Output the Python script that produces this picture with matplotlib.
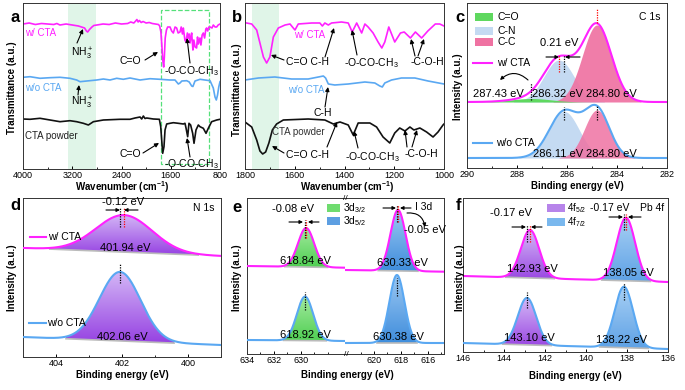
import numpy as np
import matplotlib
matplotlib.use("Agg")
import matplotlib.pyplot as plt
from matplotlib.patches import Rectangle, FancyArrowPatch
from matplotlib.ticker import MultipleLocator, FixedLocator
from matplotlib.colors import LinearSegmentedColormap

plt.rcParams['font.family'] = ['Liberation Sans', 'DejaVu Sans']
plt.rcParams['mathtext.fontset'] = 'custom'
plt.rcParams['mathtext.rm'] = 'Liberation Sans'
plt.rcParams['mathtext.it'] = 'Liberation Sans:italic'
plt.rcParams['mathtext.bf'] = 'Liberation Sans:bold'

# ---------------- data ----------------
# (a) FTIR 4000-800 cm-1 (transmittance, a.u.)
a_wn_w = [4000, 3900, 3800, 3700, 3600, 3500, 3450, 3400, 3300, 3200, 3100, 3050, 3000, 2970, 2950, 2920,
          2880, 2850, 2800, 2700, 2600, 2500, 2400, 2300, 2250, 2200, 2170, 2150, 2130, 2110, 2080, 2050,
          2000, 1950, 1900, 1850, 1800, 1780, 1760, 1745, 1730, 1715, 1705, 1690, 1670, 1650, 1612, 1585,
          1558, 1530, 1504, 1480, 1450, 1430, 1410, 1396, 1370, 1352, 1330, 1315, 1300, 1287, 1270, 1260,
          1240, 1225, 1205, 1180, 1165, 1150, 1125, 1110, 1090, 1071, 1050, 1030, 1017, 1000, 980, 962,
          930, 909, 880, 854, 830, 800]
a_t_w = [145, 146, 144.5, 145.5, 145, 144.5, 145.5, 144, 145, 144, 143, 142, 141, 138, 137, 139.5,
         142, 143.5, 144, 145, 144.5, 146, 145, 145.5, 147, 146, 148, 149.5, 147, 148.5, 146.5, 147.5,
         146, 146.5, 145.5, 145, 144.5, 143, 137, 124, 109, 102, 111, 131, 139, 142, 142, 138,
         136, 142, 141, 136, 137, 142, 135, 141, 129, 127, 136, 131, 135, 126, 133, 136,
         119, 129, 122, 121, 132, 125, 131, 124, 134, 136, 131, 140, 141, 138, 142, 142,
         141, 144, 142, 142, 144, 145]
a_wn_wo = [4000, 3886, 3724, 3561, 3399, 3237, 3128, 3074, 2965, 2803, 2695, 2587, 2478, 2371, 2262, 2099,
           1937, 1774, 1612, 1531, 1477, 1450, 1420, 1341, 1300, 1260, 1240, 1206, 1125, 1044, 962, 909,
           881, 860, 840, 820, 800]
a_t_wo = [91.7, 92.3, 90.7, 91.3, 91.7, 90.7, 89, 87.3, 88, 89, 90, 89, 90.7, 89.7, 91, 89,
          90.3, 89.7, 89, 89, 85, 86, 88, 88.3, 87, 83, 82.5, 88, 89.7, 89, 88.3, 81,
          72, 69, 74, 82, 87.3]
a_wn_cta = [4000, 3886, 3724, 3561, 3399, 3237, 3128, 3020, 2938, 2857, 2695, 2424, 2262, 2180, 2099, 2072,
            2045, 2018, 1991, 1883, 1785, 1763, 1747, 1731, 1710, 1693, 1666, 1612, 1558, 1477, 1396, 1369,
            1352, 1325, 1304, 1277, 1244, 1222, 1190, 1152, 1125, 1071, 1027, 990, 936, 854, 800]
a_t_cta = [50, 49.7, 50.7, 49, 47.3, 48.3, 47.3, 45.7, 44, 47.3, 49, 49.7, 49.7, 51, 52, 50,
           53, 50.5, 51, 50, 49.7, 42.3, 29, 15.7, 22.3, 39, 45, 45.7, 46.3, 45.7, 45, 45.7,
           41, 32.3, 45.7, 44, 35.7, 25.7, 39, 44, 42.3, 40.7, 35.7, 40.7, 47.3, 49, 49.7]

# (b) FTIR 1800-1000 cm-1
b_wn_w = [1800, 1773, 1753, 1740, 1726, 1713, 1700, 1686, 1666, 1639, 1619, 1606, 1599, 1586, 1532, 1499,
          1489, 1479, 1465, 1452, 1412, 1385, 1369, 1351, 1331, 1318, 1305, 1285, 1265, 1250, 1238, 1222,
          1198, 1175, 1160, 1135, 1115, 1090, 1065, 1035, 1017, 1000]
b_t_w = [146.3, 145, 139, 126, 112, 106, 112, 132, 141, 144, 145, 141, 139, 145, 146, 146,
         143, 146, 144, 146, 147, 146, 137, 146, 136, 145, 142, 136, 127, 121, 127, 142,
         127, 136, 137, 131, 137, 131, 138, 145, 145, 143]
b_wn_wo = [1800, 1746, 1680, 1613, 1546, 1505, 1485, 1476, 1465, 1439, 1385, 1318, 1278, 1258, 1248, 1238,
           1211, 1171, 1117, 1064, 1000]
b_t_wo = [89, 91, 92, 90, 90, 92, 93, 91, 85, 84, 85, 87, 86, 83, 82, 86,
          89, 91, 91, 88, 85]
b_wn_cta = [1800, 1773, 1753, 1740, 1729, 1717, 1704, 1690, 1673, 1646, 1546, 1479, 1445, 1418, 1385, 1365,
            1345, 1298, 1271, 1245, 1218, 1198, 1178, 1157, 1137, 1121, 1097, 1070, 1044, 1024, 1004, 1000]
b_t_cta = [47, 42, 29, 18, 15, 17, 26, 39, 45, 49, 50, 49, 45, 47, 44, 34,
           46, 46, 42, 32, 26, 36, 41, 38, 42, 39, 41, 37, 32, 37, 44, 45]

# (c) C 1s fitted components: C=O, C-N, C-C
c_w_center = [287.43, 286.32, 284.80]
c_w_height = [3.5, 42, 77]
c_w_sigma = [0.8, 0.6, 0.58]
c_w_base = 66
c_wo_center = [286.11, 284.80]
c_wo_height = [46.5, 48]
c_wo_sigma = [0.6, 0.5]
c_wo_base = 10

# (d) N 1s
d_w_center, d_w_height, d_w_sigma = 401.94, 37, 0.85
d_w_base = [109, 101]          # at 405 and 399 eV
d_wo_center, d_wo_height, d_wo_sigma = 402.06, 69, 0.62
d_wo_base = [20, 12]

# (e) I 3d : [3d3/2 , 3d5/2]
e_w_center = [629.62, 618.22]
e_w_height = [39, 61]
e_wo_center = [629.70, 618.30]
e_wo_height = [44, 68]
e_sigma = [0.6, 0.56]
e_w_base = [[88, 86.3], [84, 82.3]]
e_wo_base = [[14, 13], [11, 11]]

# (f) Pb 4f : [4f5/2 , 4f7/2]
f_w_center = [142.73, 138.05]
f_w_height = [48, 63]
f_wo_center = [142.88, 138.15]
f_wo_height = [47, 61]
f_sigma = [0.45, 0.45]
f_w_base = [76, 70]
f_wo_base = [9, 3]

# ---------------- style ----------------
MAG = '#ff22ff'
BLU = '#5aa8f2'
BLK = '#111111'
W, H = 685, 390
fig = plt.figure(figsize=(6.85, 3.9), dpi=100)


def P(x, y):
    return (x / W, 1 - y / H)


def ax_at(l, t, r, b):
    return fig.add_axes([l / W, 1 - b / H, (r - l) / W, (b - t) / H])


def T(x, y, s, size=7.5, ha='center', color='k', **kw):
    fig.text(x / W, 1 - y / H, s, ha=ha, va='center', fontsize=size, color=color, **kw)


def ARW(x0, y0, x1, y1, rad=0.0, ms=6, lw=0.8):
    fig.add_artist(FancyArrowPatch(P(x0, y0), P(x1, y1), transform=fig.transFigure,
                                   arrowstyle='-|>', mutation_scale=ms, lw=lw, color='k',
                                   shrinkA=0, shrinkB=0, connectionstyle=f'arc3,rad={rad}'))


def VL(ax, x, y0, y1, color):
    ax.plot([x, x], [y0, y1], ls=(0, (1, 1)), color=color, lw=0.9, zorder=5)


def style(ax, xlim, ylim, major, minor):
    ax.set_xlim(*xlim)
    ax.set_ylim(*ylim)
    ax.xaxis.set_major_locator(MultipleLocator(major))
    ax.xaxis.set_minor_locator(MultipleLocator(minor))
    ax.set_yticks([])
    ax.tick_params(axis='x', which='major', direction='in', length=2.5, width=0.7, labelsize=6.5, pad=1.5)
    ax.tick_params(axis='x', which='minor', direction='in', length=1.5, width=0.6)
    for s in ax.spines.values():
        s.set_linewidth(0.7)
        s.set_color('#333333')


def gauss(x, c, h, s):
    return h * np.exp(-(x - c) ** 2 / (2 * s ** 2))


def grad_fill(ax, x, y0, y1, where, c_top, c_bot):
    xl, yl = ax.get_xlim(), ax.get_ylim()
    poly = ax.fill_between(x, y0, y1, where=where, color='none', lw=0)
    ymin = float(np.min(np.asarray(y0)[where])) if np.ndim(y0) else float(y0)
    ymax = float(np.max(np.asarray(y1)[where]))
    xw = np.asarray(x)[where]
    cmap = LinearSegmentedColormap.from_list('g', [c_bot, c_top])
    grad = np.linspace(0, 1, 256).reshape(-1, 1)
    im = ax.imshow(grad, cmap=cmap, extent=[xw.min(), xw.max(), ymin, ymax], origin='lower',
                   aspect='auto', interpolation='bilinear', zorder=1)
    im.set_clip_path(poly.get_paths()[0], transform=ax.transData)
    ax.set_xlim(*xl)
    ax.set_ylim(*yl)


def lab_bold(x, y, s, rot=0):
    T(x, y, s, size=7, fontweight='bold', rotation=rot)


# ---------------- panel a ----------------
ax = ax_at(23, 3, 220, 169)
style(ax, (4000, 800), (0, 166), 800, 400)
ax.axvspan(3270, 2810, color='#e0f5e8', lw=0, zorder=0)
ax.add_patch(Rectangle((980, 5), 780, 154, fill=False, ec='#55e07a', ls='--', lw=0.9))
ax.plot(a_wn_w, a_t_w, color=MAG, lw=1.2)
ax.plot(a_wn_wo, a_t_wo, color=BLU, lw=1.2)
ax.plot(a_wn_cta, a_t_cta, color=BLK, lw=1.2)
T(25, 33, 'w/ CTA', size=7, ha='left', color=MAG)
T(82, 54, 'NH$_3^+$')
ARW(77, 43, 83, 29)
T(130, 61, 'C=O')
ARW(145, 60, 158, 52)
T(191, 71, '-O-CO-CH$_3$')
ARW(190, 63, 187, 38)
T(25, 88, 'w/o CTA', size=7, ha='left', color=BLU)
T(82, 103, 'NH$_3^+$')
ARW(78, 95, 79, 85)
T(25, 136, 'CTA powder', size=7, ha='left', color='#222222')
T(130, 154, 'C=O')
ARW(143, 153, 159, 143)
T(191, 164, '-O-CO-CH$_3$')
ARW(190, 157, 187, 138)
lab_bold(122, 187, 'Wavenumber (cm$^{\\mathbf{-1}}$)')
lab_bold(12, 88, 'Transmittance (a.u.)', rot=90)
T(15, 18, 'a', size=12, fontweight='bold')

# ---------------- panel b ----------------
ax = ax_at(245, 3, 444, 169)
style(ax, (1800, 1000), (0, 166), 200, 100)
ax.axvspan(1772, 1663, color='#e0f5e8', lw=0, zorder=0)
ax.plot(b_wn_w, b_t_w, color=MAG, lw=1.2)
ax.plot(b_wn_wo, b_t_wo, color=BLU, lw=1.2)
ax.plot(b_wn_cta, b_t_cta, color=BLK, lw=1.2)
T(310, 35, 'w/ CTA', size=7, color=MAG)
T(308, 62, 'C=O C-H')
ARW(284, 60, 271, 55)
ARW(325, 57, 334, 28)
T(371, 63, '-O-CO-CH$_3$')
ARW(357, 55, 352, 30)
T(427, 62, '-C-O-H')
ARW(415, 56, 411, 39)
ARW(418, 56, 424, 39)
T(306, 90, 'w/o CTA', size=7, color=BLU)
T(323, 113, 'C-H')
ARW(325, 107, 328, 87)
T(298, 132, 'CTA powder', size=7, color='#333333')
T(308, 155, 'C=O C-H')
ARW(284, 153, 272, 146)
ARW(327, 147, 337, 122)
T(372, 157, '-O-CO-CH$_3$')
ARW(358, 148, 354, 131)
T(421, 154, '-C-O-H')
ARW(407, 147, 405, 130)
ARW(412, 147, 417, 130)
lab_bold(347, 187, 'Wavenumber (cm$^{\\mathbf{-1}}$)')
lab_bold(237, 90, 'Transmittance (a.u.)', rot=90)
T(237, 18, 'b', size=12, fontweight='bold')

# ---------------- panel c ----------------
ax = ax_at(467, 3, 667, 168)
style(ax, (290, 282), (0, 165), 2, 1)
x = np.linspace(290, 282, 800)
cols_c = ['#5fd85f', '#c4daf2', '#ef72a2']
comps = [gauss(x, c, h, s) for c, h, s in zip(c_w_center, c_w_height, c_w_sigma)]
for k in [1, 2, 0]:
    m = comps[k] > 0.01 * c_w_height[k]
    ax.fill_between(x, c_w_base, c_w_base + comps[k], where=m, color=cols_c[k], lw=0,
                    alpha=1.0 if k != 2 else 0.92)
ax.plot(x, c_w_base + sum(comps), color=MAG, lw=1.5)
comps2 = [gauss(x, c, h, s) for c, h, s in zip(c_wo_center, c_wo_height, c_wo_sigma)]
for k, col in zip([0, 1], [cols_c[1], cols_c[2]]):
    m = comps2[k] > 0.01 * c_wo_height[k]
    ax.fill_between(x, c_wo_base, c_wo_base + comps2[k], where=m, color=col, lw=0,
                    alpha=1.0 if k == 0 else 0.85)
ax.plot(x, c_wo_base + sum(comps2), color=BLU, lw=1.5)
VL(ax, c_w_center[2], 168 - 23, 168 - 8, 'red')
VL(ax, c_w_center[1], 168 - 72, 168 - 55, 'red')
VL(ax, c_wo_center[0], 168 - 72, 168 - 55, 'k')
VL(ax, c_w_center[0], 168 - 100, 168 - 83, 'k')
VL(ax, c_wo_center[0], 168 - 120, 168 - 107, 'k')
VL(ax, c_wo_center[1], 168 - 120, 168 - 106, 'k')
for yy, col, name in [(17, cols_c[0], 'C=O'), (31, cols_c[1], 'C-N'), (42, cols_c[2], 'C-C')]:
    fig.add_artist(Rectangle(P(475, yy + 4), 18 / W, 8 / H, transform=fig.transFigure, color=col, lw=0))
    T(497, yy, name, size=7.5, ha='left')
T(650, 17, 'C 1s', size=7.5)
fig.add_artist(plt.Line2D([473 / W, 492 / W], [P(0, 63)[1]] * 2, color=MAG, lw=1.5))
T(497, 63, 'w/ CTA', size=7.5, ha='left')
fig.add_artist(plt.Line2D([473 / W, 492 / W], [P(0, 143)[1]] * 2, color=BLU, lw=1.5))
T(496, 143, 'w/o CTA', size=7.5, ha='left')
T(559, 43, '0.21 eV', size=8)
ARW(546, 57, 559, 57, ms=5)
ARW(580, 57, 565, 57, ms=5)
ARW(528, 80, 500, 80, rad=0.45, ms=5)
T(498, 94, '287.43 eV', size=8)
T(557, 94, '286.32 eV', size=8)
T(611, 94, '284.80 eV', size=8)
T(558, 154, '286.11 eV', size=8)
T(611, 154, '284.80 eV', size=8)
lab_bold(577, 186, 'Binding energy (eV)')
lab_bold(458, 87, 'Intensity (a.u.)', rot=90)
T(460, 17, 'c', size=12, fontweight='bold')

# ---------------- panel d ----------------
ax = ax_at(23, 198, 221, 357)
style(ax, (405, 399), (0, 159), 2, 1)
x = np.linspace(405, 399, 600)
for cen, hh, sg, base, col in [(d_w_center, d_w_height, d_w_sigma, d_w_base, MAG),
                               (d_wo_center, d_wo_height, d_wo_sigma, d_wo_base, BLU)]:
    bl = np.interp(x, [399, 405], [base[1], base[0]])
    g = gauss(x, cen, hh, sg)
    m = g > 0.03 * hh
    grad_fill(ax, x, bl, bl + g, m, '#d4b8f6', '#9642e2')
    ax.plot(x[m], bl[m], color='#bbbbbb', lw=1.2, zorder=2)
    ax.plot(x, bl + g, color=col, lw=1.5, zorder=3)
VL(ax, d_wo_center, 357 - 227, 357 - 208, 'k')
VL(ax, d_w_center, 357 - 227, 357 - 208, 'red')
VL(ax, d_wo_center, 357 - 283, 357 - 263, 'k')
T(123, 202, '-0.12 eV', size=8)
ARW(106, 210, 120, 210, ms=5)
ARW(138, 210, 124, 210, ms=5)
T(125, 248, '401.94 eV', size=8)
T(122, 337, '402.06 eV', size=8)
fig.add_artist(plt.Line2D([30 / W, 46 / W], [P(0, 237)[1]] * 2, color=MAG, lw=1.5))
T(48, 237, 'w/ CTA', size=7.5, ha='left')
fig.add_artist(plt.Line2D([29 / W, 46 / W], [P(0, 323)[1]] * 2, color=BLU, lw=1.5))
T(47, 323, 'w/o CTA', size=7.5, ha='left')
T(204, 208, 'N 1s', size=7.5)
lab_bold(122, 375, 'Binding energy (eV)')
lab_bold(12, 278, 'Intensity (a.u.)', rot=90)
T(15, 205, 'd', size=12, fontweight='bold')

# ---------------- panel e (broken axis) ----------------
axL = ax_at(247, 198, 345, 354)
axR = ax_at(345, 198, 444, 354)
style(axL, (634, 626.74), (0, 156), 2, 1)
style(axR, (622.15, 614.81), (0, 156), 2, 1)
axL.xaxis.set_major_locator(FixedLocator([634, 632, 630]))
axL.xaxis.set_minor_locator(FixedLocator([633, 631, 629, 628]))
axR.xaxis.set_major_locator(FixedLocator([620, 618, 616]))
axR.xaxis.set_minor_locator(FixedLocator([621, 619, 617, 615]))
axL.spines['right'].set_visible(False)
axR.spines['left'].set_visible(False)
GRN_T, GRN_B = '#a4eaa0', '#4fcf52'
BL_T, BL_B = '#9cc8f2', '#3f8ddc'
xs = [np.linspace(634, 626.74, 400), np.linspace(622.15, 614.81, 400)]
for i, (a_, ct, cb) in enumerate([(axL, GRN_T, GRN_B), (axR, BL_T, BL_B)]):
    xx = xs[i]
    for cen, hh, base, lc in [(e_w_center, e_w_height, e_w_base, MAG), (e_wo_center, e_wo_height, e_wo_base, BLU)]:
        bl = np.interp(xx, [xx[-1], xx[0]], [base[i][1], base[i][0]])
        g = gauss(xx, cen[i], hh[i], e_sigma[i])
        m = g > 0.03 * hh[i]
        grad_fill(a_, xx, bl, bl + g, m, ct, cb)
        a_.plot(xx[m], bl[m], color='#bbbbbb', lw=1.2, zorder=2)
        a_.plot(xx, bl + g, color=lc, lw=1.5, zorder=3)
VL(axL, e_wo_center[0], 354 - 238, 354 - 220, 'k')
VL(axL, e_w_center[0], 354 - 238, 354 - 220, 'red')
VL(axL, e_wo_center[0], 354 - 310, 354 - 292, 'k')
VL(axR, e_wo_center[1], 354 - 222, 354 - 205, 'k')
VL(axR, e_w_center[1], 354 - 222, 354 - 205, 'red')
VL(axR, e_wo_center[1], 354 - 296, 354 - 278, 'k')
T(345, 198, '//', size=6)
T(346, 354, '//', size=6)
T(293, 209, '-0.08 eV', size=8)
ARW(289, 222, 303, 222, ms=5)
ARW(319, 222, 308, 222, ms=5)
for yy, col, name in [(208, '#6fdc6f', '3d$_{3/2}$'), (221, '#5d9fe2', '3d$_{5/2}$')]:
    fig.add_artist(Rectangle(P(327, yy + 4), 13 / W, 8 / H, transform=fig.transFigure, color=col, lw=0))
    T(343, yy, name, size=7.5, ha='left')
T(424, 207, 'I 3d', size=7.5)
ARW(383, 208, 396, 208, ms=5)
ARW(411, 208, 400, 208, ms=5)
ARW(407, 213, 425, 227, rad=-0.45, ms=5)
T(425, 230, '-0.05 eV', size=8)
T(305, 261, '618.84 eV', size=8)
T(402, 263, '630.33 eV', size=8)
T(305, 335, '618.92 eV', size=8)
T(398, 337, '630.38 eV', size=8)
lab_bold(347, 375, 'Binding energy (eV)')
lab_bold(237, 278, 'Intensity (a.u.)', rot=90)
T(237, 207, 'e', size=12, fontweight='bold')

# ---------------- panel f ----------------
ax = ax_at(463, 198, 668, 352)
style(ax, (146, 136), (0, 154), 2, 1)
x = np.linspace(146, 136, 700)
fcols = [('#d4b8f6', '#9a48e2'), ('#a8d0f4', '#5fa2e6')]
for cen, hh, base, lc in [(f_w_center, f_w_height, f_w_base, MAG), (f_wo_center, f_wo_height, f_wo_base, BLU)]:
    bl = np.interp(x, [136, 146], [base[1], base[0]])
    tot = bl.copy()
    for i, (ct, cb) in enumerate(fcols):
        g = gauss(x, cen[i], hh[i], f_sigma[i])
        m = g > 0.03 * hh[i]
        grad_fill(ax, x, bl, bl + g, m, ct, cb)
        ax.plot(x[m], bl[m], color='#bbbbbb', lw=1.2, zorder=2)
        tot = tot + g
    ax.plot(x, tot, color=lc, lw=1.5, zorder=3)
VL(ax, f_wo_center[0], 352 - 242, 352 - 225, 'k')
VL(ax, f_w_center[0], 352 - 242, 352 - 225, 'red')
VL(ax, f_wo_center[1], 352 - 230, 352 - 214, 'k')
VL(ax, f_w_center[1], 352 - 230, 352 - 214, 'red')
VL(ax, f_wo_center[0], 352 - 308, 352 - 292, 'k')
VL(ax, f_wo_center[1], 352 - 300, 352 - 283, 'k')
T(511, 213, '-0.17 eV', size=8)
ARW(512, 227, 526, 227, ms=5)
ARW(542, 227, 531, 227, ms=5)
for yy, col, name in [(208, '#b784ea', '4f$_{5/2}$'), (222, '#7ab8ee', '4f$_{7/2}$')]:
    fig.add_artist(Rectangle(P(547, yy + 4), 18 / W, 8 / H, transform=fig.transFigure, color=col, lw=0))
    T(567, yy, name, size=7, ha='left')
T(610, 208, '-0.17 eV', size=7.5)
T(652, 208, 'Pb 4f', size=7.5)
ARW(609, 217, 623, 217, ms=5)
ARW(641, 217, 628, 217, ms=5)
T(532, 269, '142.93 eV', size=8)
T(628, 273, '138.05 eV', size=8)
T(529, 338, '143.10 eV', size=8)
T(622, 340, '138.22 eV', size=8)
lab_bold(575, 376, 'Binding energy (eV)')
lab_bold(460, 278, 'Intensity (a.u.)', rot=90)
T(458, 205, 'f', size=12, fontweight='bold')

fig.savefig('out.png', dpi=100)
